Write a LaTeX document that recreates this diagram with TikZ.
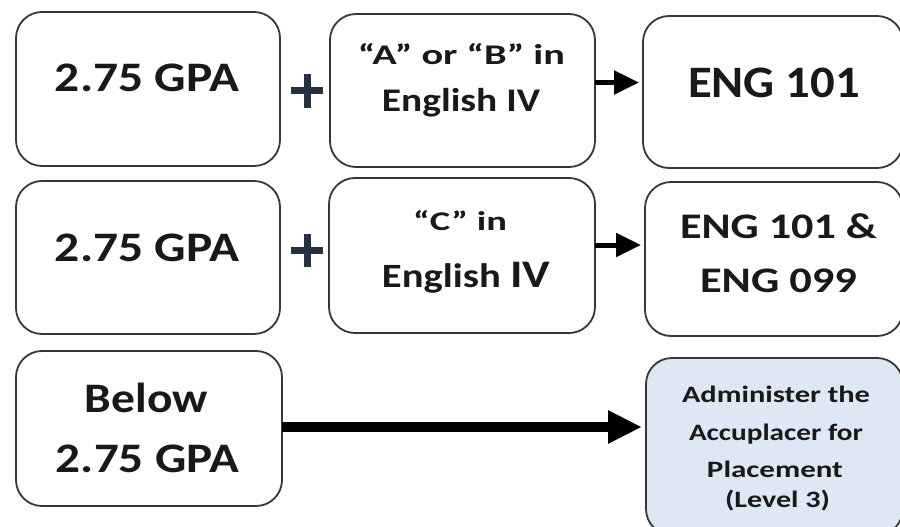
\documentclass[tikz,border=0pt]{standalone}
\usepackage{fontspec}
\usepackage{graphicx}
\setmainfont{Carlito}
\usetikzlibrary{arrows.meta}
\definecolor{edge}{RGB}{55,55,55}
\definecolor{softblue}{RGB}{221,232,244}
\definecolor{plusink}{RGB}{38,48,64}
\newcommand\fsz[1]{\fontsize{#1}{#1}\selectfont\bfseries}
% one line of text: width in pt, font size in pt, text
\newcommand\wline[3]{\resizebox{#1pt}{\height}{\fsz{#2}#3}}
\tikzset{
  box/.style={draw=edge, line width=1.8pt, rounded corners=26pt, inner sep=0pt, outer sep=0pt},
  lbl/.style={anchor=base, inner sep=0pt, outer sep=0pt, text=black!90},
  thinarrow/.style={line width=5pt, -{Triangle[length=25pt,width=23pt]}, shorten >=4pt},
  widearrow/.style={line width=10pt, -{Triangle[length=34pt,width=31pt]}, shorten >=4pt},
  plussign/.style={line width=7pt, draw=plusink}
}
\begin{document}
\begin{tikzpicture}[x=1pt,y=-1pt]
\clip (0,0) rectangle (900,527);
\fill[white] (0,0) rectangle (900,527);

% boxes
\node[box, minimum width=264pt, minimum height=154pt] (a1) at (148,89) {};
\node[box, minimum width=265pt, minimum height=153pt] (b1) at (462.5,90.5) {};
\node[box, minimum width=260pt, minimum height=152pt] (c1) at (773,92) {};
\node[box, minimum width=264pt, minimum height=153pt] (a2) at (148,257.5) {};
\node[box, minimum width=266pt, minimum height=155pt] (b2) at (462,255.5) {};
\node[box, minimum width=258pt, minimum height=154pt] (c2) at (774,259) {};
\node[box, minimum width=266pt, minimum height=155pt] (a3) at (149,428.5) {};
\node[box, fill=softblue, minimum width=257pt, minimum height=177pt] (c3) at (774.5,446.5) {};

% labels
\node[lbl] (a1t) at (147,92) {\wline{184}{42}{2.75 GPA}};
\node[lbl] (b1t1) at (461.5,65) {\wline{207}{28.5}{“A” or “B” in}};
\node[lbl] (b1t2) at (461,112) {\wline{158}{33}{English IV}};
\node[lbl] (c1t) at (774,97) {\wline{172}{45}{ENG 101}};

\node[lbl] (a2t) at (147,261) {\wline{184}{42}{2.75 GPA}};
\node[lbl] (b2t1) at (460,230) {\wline{94}{27}{“C” in}};
\node[lbl] (b2t2) at (466,287) {\wline{168}{34}{English {\fsz{39}IV}}};
\node[lbl] (c2t1) at (778.5,238) {\wline{197}{36}{ENG 101 \&}};
\node[lbl] (c2t2) at (778.5,292) {\wline{157}{36}{ENG 099}};

\node[lbl] (a3t1) at (146.5,412) {\wline{123}{42}{Below}};
\node[lbl] (a3t2) at (147.5,472) {\wline{183}{42}{2.75 GPA}};
\node[lbl] (c3t1) at (776,402) {\wline{188}{23.5}{Administer the}};
\node[lbl] (c3t2) at (776,440) {\wline{174}{23.5}{Accuplacer for}};
\node[lbl] (c3t3) at (775,477) {\wline{136}{23.5}{Placement}};
\node[lbl] (c3t4) at (777.5,507) {\wline{105}{23.5}{(Level 3)}};

% plus signs between the conditions
\coordinate (p1) at (307,91);
\coordinate (p2) at (307,250);
\foreach \p in {p1,p2}{
  \draw[plussign] ([xshift=-16pt]\p) -- ([xshift=16pt]\p);
  \draw[plussign] ([yshift=-16.5pt]\p) -- ([yshift=16.5pt]\p);
}

% arrows to the placements
\coordinate (r1) at ([yshift=8pt]b1.east);
\coordinate (r2) at ([yshift=10.5pt]b2.east);
\coordinate (r3) at ([yshift=1.5pt]a3.east);
\draw[thinarrow] (r1) -- (c1.west |- r1);
\draw[thinarrow] (r2) -- (c2.west |- r2);
\draw[widearrow] (r3) -- (c3.west |- r3);
\end{tikzpicture}
\end{document}
